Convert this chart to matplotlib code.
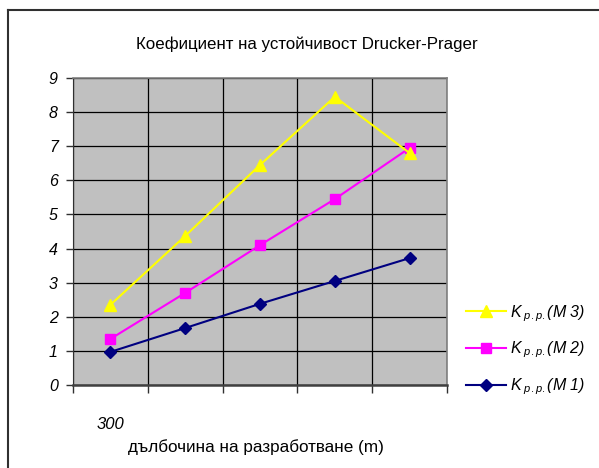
import matplotlib
matplotlib.use("Agg")
import matplotlib.pyplot as plt
from matplotlib.lines import Line2D

plt.rcParams['font.family'] = ['Liberation Sans', 'DejaVu Sans']
plt.rcParams['mathtext.fontset'] = 'custom'
plt.rcParams['mathtext.rm'] = 'Liberation Sans'
plt.rcParams['mathtext.it'] = 'Liberation Sans:italic'

categories = ["300", "", "", "", ""]
k_m1 = [0.97, 1.67, 2.38, 3.05, 3.72]
k_m2 = [1.35, 2.70, 4.10, 5.45, 6.95]
k_m3 = [2.35, 4.37, 6.45, 8.45, 6.80]
labels = ["K$_{\\ р.р.}$(M 3)", "K$_{\\ р.р.}$(M 2)", "K$_{\\ р.р.}$(M 1)"]
title = "Коефициент на устойчивост Drucker-Prager"
xlabel = "дълбочина на разработване (m)"

W, H = 599, 468
fig = plt.figure(figsize=(W / 100, H / 100), dpi=100)
ax = fig.add_axes([73 / W, 1 - 385 / H, (447 - 73) / W, (385 - 78) / H])
ax.set_facecolor('#c0c0c0')

xs = [i + 0.5 for i in range(len(categories))]
h1, = ax.plot(xs, k_m1, color='#000080', marker='D', markersize=6.5, lw=1.5, zorder=3)
h2, = ax.plot(xs, k_m2, color='#ff00ff', marker='s', markersize=7, lw=1.5, zorder=4)
h3, = ax.plot(xs, k_m3, color='#ffff00', marker='^', markersize=8, lw=1.5, zorder=5)

ax.set_xlim(0, len(categories))
ax.set_ylim(0, 9)
ax.set_yticks(range(0, 10))
ax.set_yticklabels([str(v) for v in range(0, 10)], fontstyle='italic', fontsize=11.5)
ax.set_xticks(range(0, len(categories) + 1))
ax.set_xticklabels([])
ax.tick_params(axis='y', direction='out', length=5, width=1, color='#303030', pad=6)
ax.tick_params(axis='x', direction='out', length=6, width=1, color='#303030')
ax.grid(True, color='black', lw=0.9)
ax.set_axisbelow(True)

for s in ['top', 'right']:
    ax.spines[s].set_color('#808080')
    ax.spines[s].set_linewidth(1.2)
ax.spines['left'].set_color('#303030')
ax.spines['bottom'].set_color('#404040')
ax.spines['bottom'].set_linewidth(1.8)

for x, lab in zip(xs, categories):
    if lab:
        ax.text(x, -1.15, lab, ha='center', va='center', fontsize=12, fontstyle='italic')

fig.text(307 / W, 1 - 44 / H, title, ha='center', va='center', fontsize=12.2)
fig.text(256 / W, 1 - 447 / H, xlabel, ha='center', va='center', fontsize=12.3)

leg = fig.legend([h3, h2, h1], labels, loc='center left',
                 bbox_to_anchor=(452 / W, 1 - 350 / H), frameon=False,
                 handlelength=2.5, handletextpad=0.25, labelspacing=1.0,
                 prop={'style': 'italic', 'size': 11.5})

# outer frame
fig.add_artist(Line2D([8 / W, 1.0], [1 - 10 / H, 1 - 10 / H], transform=fig.transFigure, color='#303030', lw=1.5))
fig.add_artist(Line2D([8 / W, 8 / W], [1 - 10 / H, 0.0], transform=fig.transFigure, color='#303030', lw=1.5))

fig.savefig('out.png', dpi=100)
